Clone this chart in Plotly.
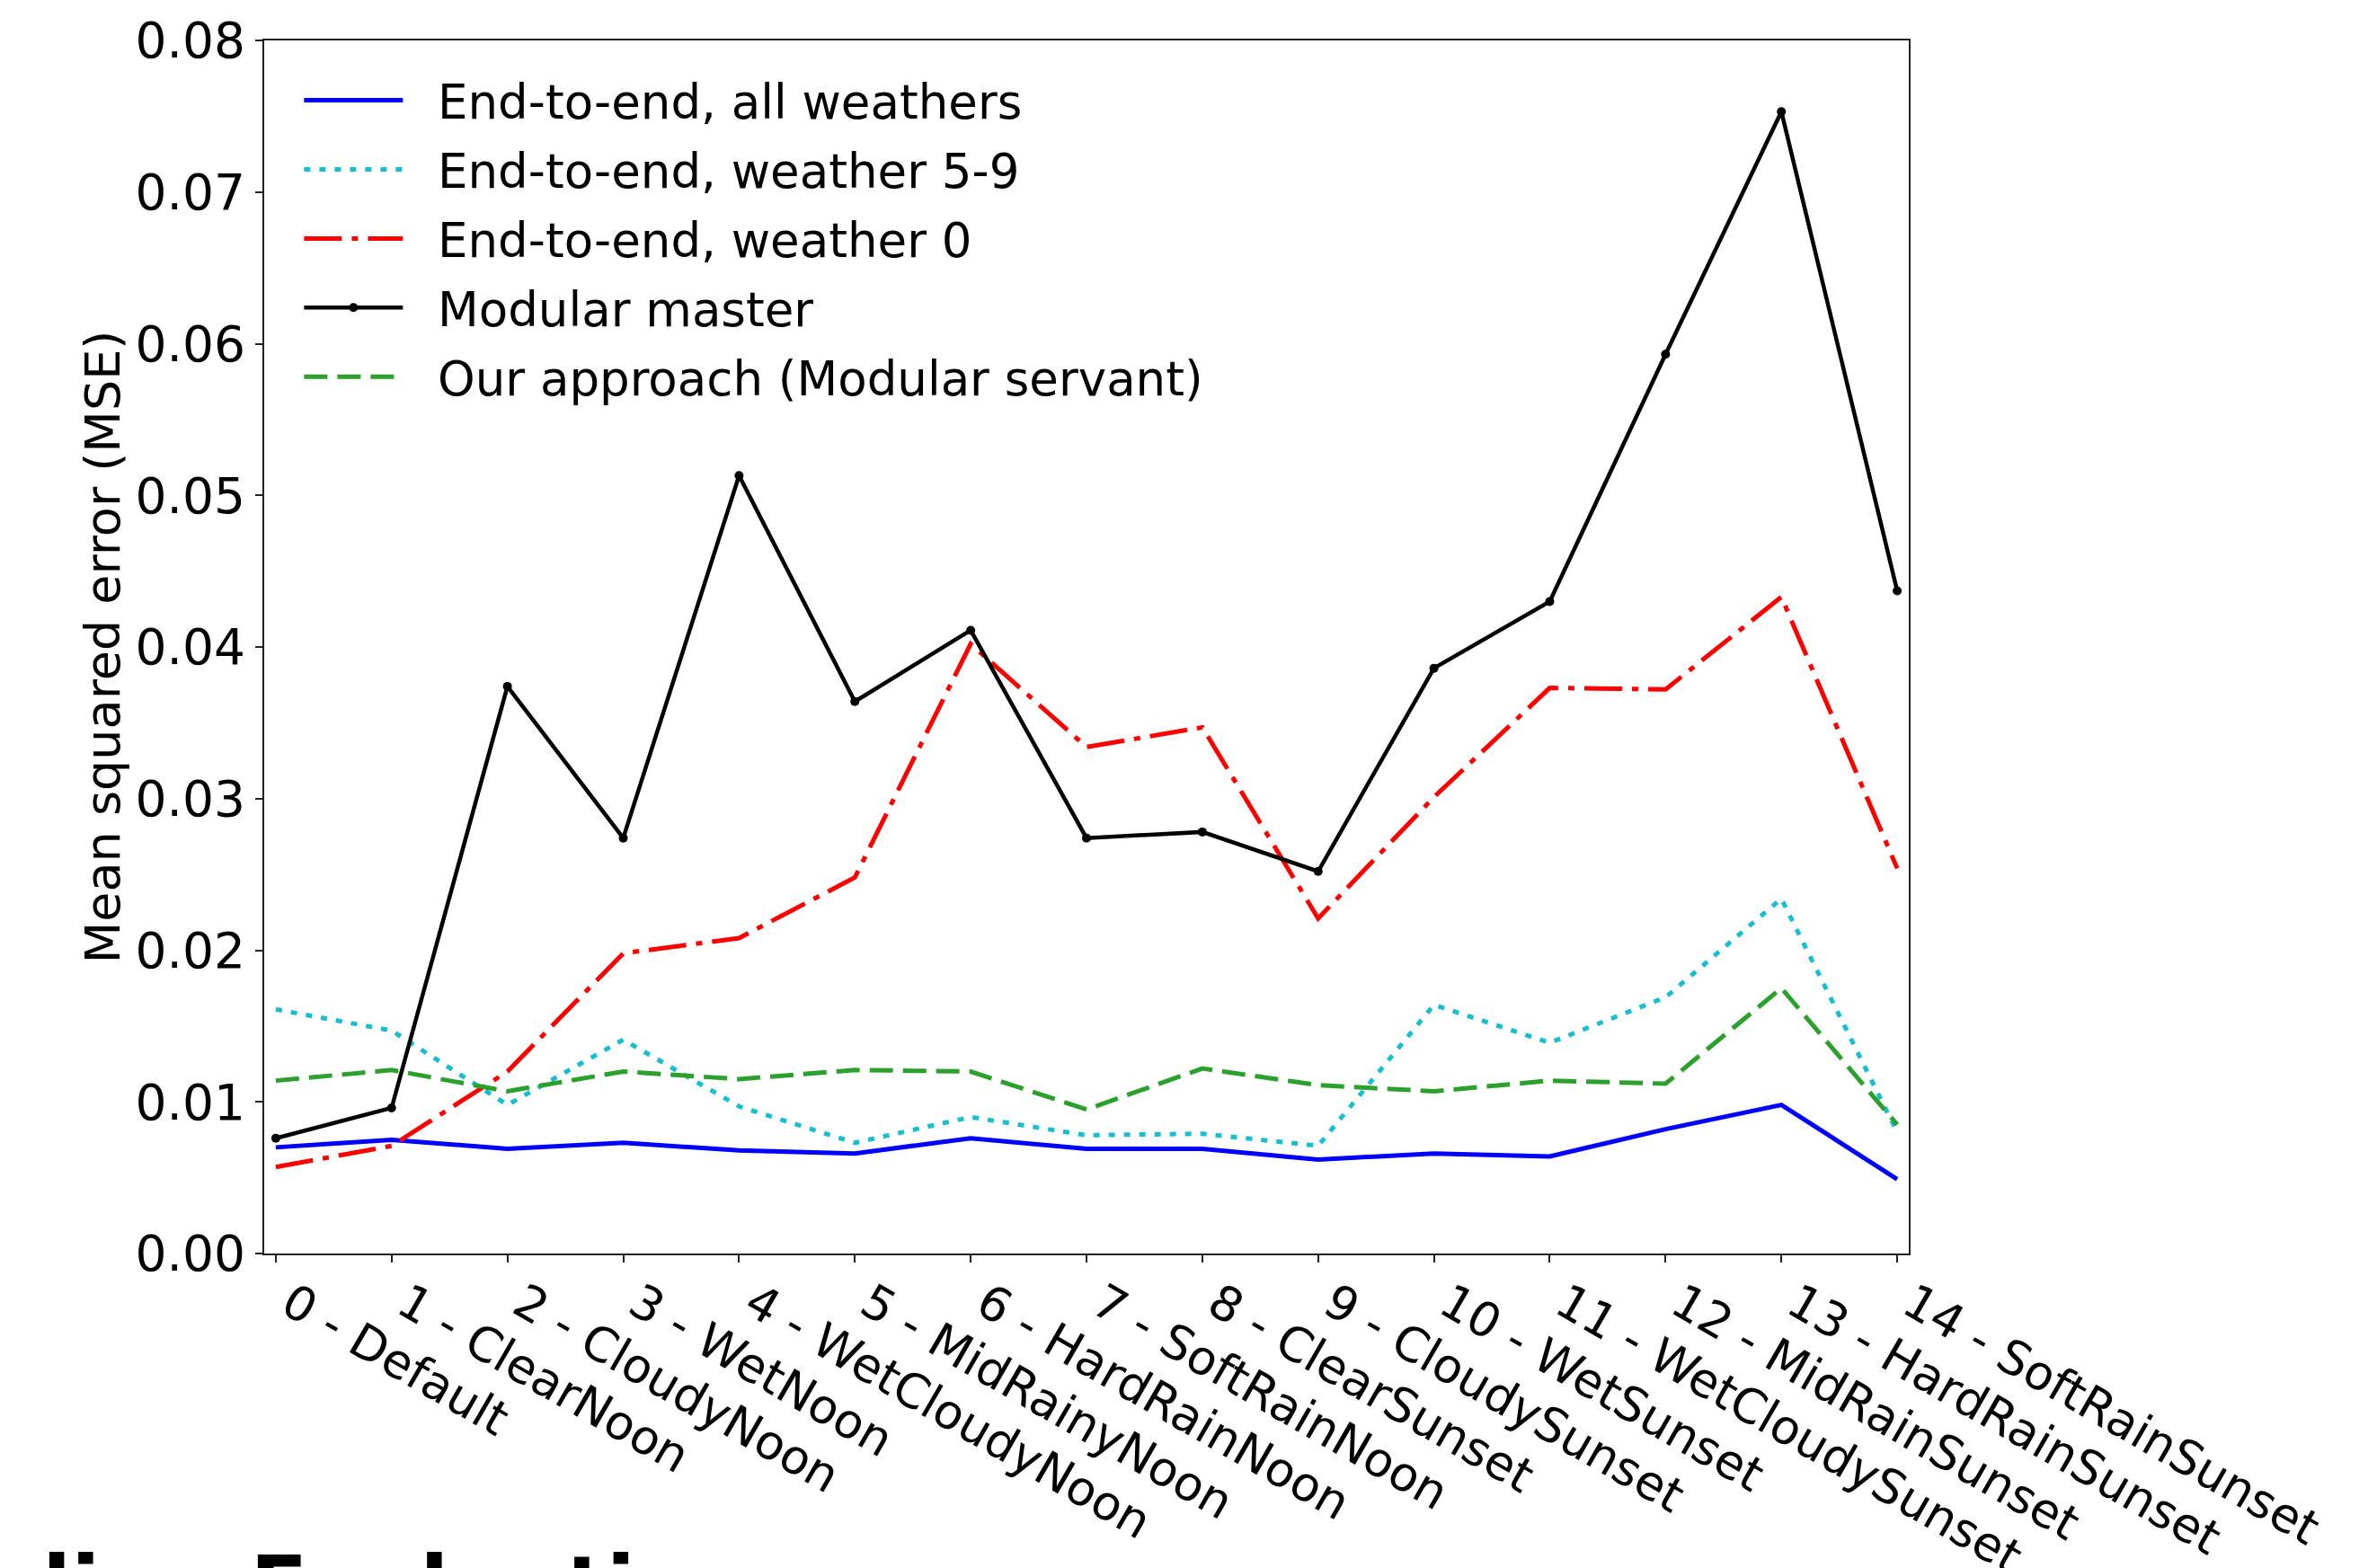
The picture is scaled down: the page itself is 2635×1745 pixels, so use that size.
import plotly.graph_objects as go

categories = ["0 - Default", "1 - ClearNoon", "2 - CloudyNoon", "3 - WetNoon",
              "4 - WetCloudyNoon", "5 - MidRainyNoon", "6 - HardRainNoon",
              "7 - SoftRainNoon", "8 - ClearSunset", "9 - CloudySunset",
              "10 - WetSunset", "11 - WetCloudySunset", "12 - MidRainSunset",
              "13 - HardRainSunset", "14 - SoftRainSunset"]
x_idx = list(range(len(categories)))

e2e_all = [0.0070, 0.0075, 0.0069, 0.0073, 0.0068, 0.0066, 0.0076, 0.0069,
           0.0069, 0.0062, 0.0066, 0.0064, 0.0082, 0.0098, 0.0049]
e2e_w59 = [0.0161, 0.0147, 0.0098, 0.0141, 0.0097, 0.0073, 0.0090, 0.0078,
           0.0079, 0.0071, 0.0164, 0.0139, 0.0169, 0.0234, 0.0080]
e2e_w0 = [0.0057, 0.0071, 0.0120, 0.0198, 0.0208, 0.0248, 0.0402, 0.0334,
          0.0347, 0.0221, 0.0301, 0.0373, 0.0372, 0.0433, 0.0254]
mod_master = [0.0076, 0.0096, 0.0374, 0.0274, 0.0513, 0.0364, 0.0411, 0.0274,
              0.0278, 0.0252, 0.0386, 0.0430, 0.0593, 0.0753, 0.0437]
mod_servant = [0.0114, 0.0121, 0.0107, 0.0120, 0.0115, 0.0121, 0.0120, 0.0095,
               0.0122, 0.0111, 0.0107, 0.0114, 0.0112, 0.0175, 0.0085]

y_ticks = [0.00, 0.01, 0.02, 0.03, 0.04, 0.05, 0.06, 0.07, 0.08]

FONT = "DejaVu Sans"
FS = 53
PAD = "\u00a0\u00a0"

fig = go.Figure()
fig.add_trace(go.Scatter(x=x_idx, y=e2e_all, mode="lines", name=PAD + "End-to-end, all weathers",
                         legendgroup="a",
                         line=dict(color="#0000ff", width=5)))
fig.add_trace(go.Scatter(x=x_idx, y=e2e_w59, mode="lines", name=PAD + "End-to-end, weather 5-9",
                         legendgroup="b",
                         line=dict(color="#17becf", width=5, dash="7px,10px")))
fig.add_trace(go.Scatter(x=x_idx, y=e2e_w0, mode="lines", name=PAD + "End-to-end, weather 0",
                         legendgroup="c",
                         line=dict(color="#ff0000", width=5, dash="42px,11px,7px,11px")))
fig.add_trace(go.Scatter(x=x_idx, y=mod_master, mode="lines+markers", name=PAD + "Modular master",
                         legendgroup="d",
                         line=dict(color="#000000", width=4.5),
                         marker=dict(color="#000000", size=10)))
fig.add_trace(go.Scatter(x=x_idx, y=mod_servant, mode="lines", name=PAD + "Our approach (Modular servant)",
                         legendgroup="e",
                         line=dict(color="#2ca02c", width=5, dash="26px,11px")))

fig.add_annotation(text="<b>ling Evaluation</b>", xref="paper", yref="paper",
                   x=-0.136, y=-0.317, xanchor="left", yanchor="bottom",
                   showarrow=False, font=dict(family=FONT, size=94, color="black"))

axis_common = dict(showline=True, linecolor="#222222", linewidth=2, mirror=True,
                   ticks="outside", ticklen=8, tickwidth=2, tickcolor="#222222",
                   showgrid=False, zeroline=False, automargin=False)

fig.update_layout(
    width=2635, height=1745,
    margin=dict(l=294, r=511, t=45, b=350, autoexpand=False),
    paper_bgcolor="white", plot_bgcolor="white",
    font=dict(family=FONT, size=FS, color="black"),
    xaxis=dict(range=[-0.1, 14.1], tickmode="array", tickvals=x_idx, ticktext=categories,
               tickangle=30, ticklabelshift=16, ticklabelstandoff=-6,
               tickfont=dict(family=FONT, size=FS, color="black"),
               **axis_common),
    yaxis=dict(range=[0, 0.08], tickmode="array", tickvals=y_ticks,
               ticktext=[f"{v:.2f}" for v in y_ticks],
               tickfont=dict(family=FONT, size=55, color="black"),
               title=dict(text="Mean squared error (MSE)", standoff=0,
                          font=dict(family=FONT, size=54, color="black")),
               **axis_common),
    legend=dict(x=0.0215, y=0.981, xanchor="left", yanchor="top",
                bgcolor="rgba(255,255,255,0)", borderwidth=0,
                font=dict(family=FONT, size=FS, color="black"),
                tracegroupgap=5, itemwidth=110),
    showlegend=True,
)

fig.write_html("out.html", config={"displayModeBar": False},
               post_script="document.body.style.margin='0';")
